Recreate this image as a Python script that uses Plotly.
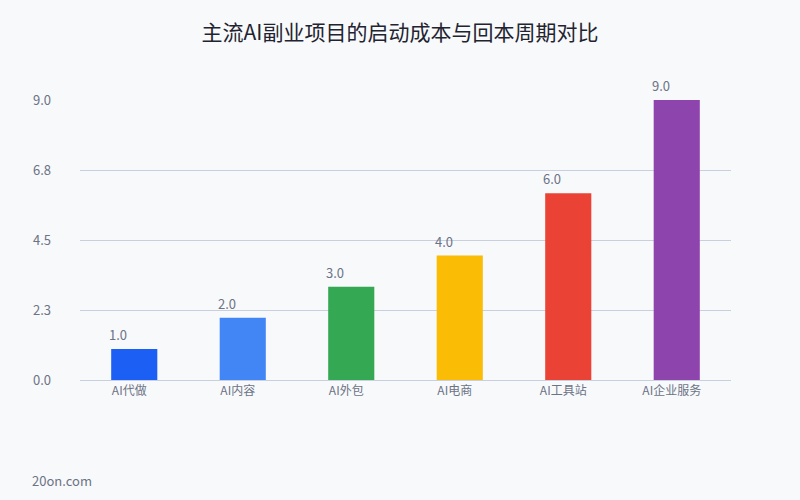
import plotly.graph_objects as go

# 主流AI副业项目 启动成本/回本周期
projects = ["AI代做", "AI内容", "AI外包", "AI电商", "AI工具站", "AI企业服务"]
values = [1.0, 2.0, 3.0, 4.0, 6.0, 9.0]
bar_colors = ["#1c5ff5", "#4286f5", "#34a853", "#fbbc05", "#ea4335", "#8e44ad"]
y_ticks = [0, 2.25, 4.5, 6.75, 9]
y_tick_labels = ["0.0", "2.3", "4.5", "6.8", "9.0"]

font_family = "Noto Sans CJK SC, Noto Sans, sans-serif"
grey = "#6b7385"

fig = go.Figure()
fig.add_trace(go.Bar(
    x=projects,
    y=values,
    marker=dict(color=bar_colors, line=dict(width=0)),
    hoverinfo="skip",
))

# value labels sit a bit left, over the bar edge
for p, v in zip(projects, values):
    fig.add_annotation(
        x=p, y=v, text=f"{v:.1f}", showarrow=False,
        xanchor="left", yanchor="bottom", xshift=-27, yshift=3,
        font=dict(size=13, color=grey, family=font_family),
    )

fig.add_annotation(
    text="20on.com", xref="paper", yref="paper", x=-0.077, y=-0.36,
    xanchor="left", yanchor="middle", showarrow=False,
    font=dict(size=13, color=grey, family=font_family),
)

fig.update_layout(
    title=dict(text="主流AI副业项目的启动成本与回本周期对比", x=0.5, xanchor="center",
               y=0.934, yanchor="middle",
               font=dict(size=21, color="#1f2430", family=font_family)),
    width=800, height=500,
    margin=dict(l=80, r=69, t=100, b=120),
    paper_bgcolor="#f8f9fb",
    plot_bgcolor="#f8f9fb",
    bargap=0.575,
    showlegend=False,
    font=dict(family=font_family, color=grey),
)
fig.update_xaxes(
    showgrid=False, showline=True, linecolor="#c8d0e0", linewidth=1,
    tickfont=dict(size=12, color=grey), ticks="", ticklabelshift=-5,
)
fig.update_yaxes(
    range=[0, 9], tickvals=y_ticks, ticktext=y_tick_labels,
    showgrid=True, gridcolor="#c8d0e0", gridwidth=1, zeroline=False,
    showline=False, ticks="", ticklabelstandoff=28,
    tickfont=dict(size=13, color=grey),
)

# drop the default page margin so the chart sits at the window corner
fig.write_html("out.html", config={"displayModeBar": False},
               post_script="document.body.style.margin='0';")
